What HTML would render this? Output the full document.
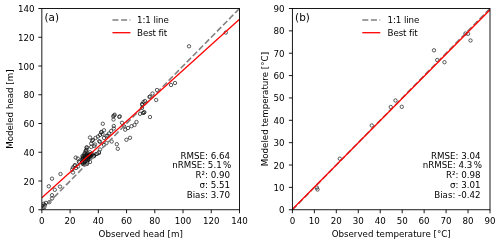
<!DOCTYPE html>
<html lang="en"><head><meta charset="utf-8"><title>Model fit</title>
<style>html,body{margin:0;padding:0;background:#fff}body{width:500px;height:244px;overflow:hidden}</style></head>
<body>
<svg width="500" height="244" viewBox="0 0 500 244" style="display:block" font-family='"DejaVu Sans", "Liberation Sans", sans-serif' font-size="8.7" fill="#000">
<rect width="500" height="244" fill="#fff"/>
<clipPath id="ca"><rect x="41.85" y="8.5" width="197.65" height="201.25"/></clipPath>
<g clip-path="url(#ca)">
<g fill="none" stroke="#111" stroke-width="0.68">
<circle cx="49.3" cy="202.2" r="1.7"/>
<circle cx="45.9" cy="202.9" r="1.7"/>
<circle cx="43.7" cy="203.8" r="1.7"/>
<circle cx="45.0" cy="205.0" r="1.7"/>
<circle cx="43.4" cy="206.0" r="1.7"/>
<circle cx="44.2" cy="207.3" r="1.7"/>
<circle cx="42.8" cy="208.0" r="1.7"/>
<circle cx="52.0" cy="198.5" r="1.7"/>
<circle cx="52.0" cy="195.2" r="1.7"/>
<circle cx="48.8" cy="186.3" r="1.7"/>
<circle cx="54.8" cy="189.8" r="1.7"/>
<circle cx="60.0" cy="186.6" r="1.7"/>
<circle cx="52.0" cy="178.7" r="1.7"/>
<circle cx="60.5" cy="174.0" r="1.7"/>
<circle cx="73.0" cy="172.5" r="1.7"/>
<circle cx="72.2" cy="169.5" r="1.7"/>
<circle cx="74.5" cy="166.0" r="1.7"/>
<circle cx="73.0" cy="167.5" r="1.7"/>
<circle cx="75.0" cy="165.0" r="1.7"/>
<circle cx="76.0" cy="168.0" r="1.7"/>
<circle cx="78.0" cy="166.5" r="1.7"/>
<circle cx="92.0" cy="140.8" r="1.7"/>
<circle cx="91.2" cy="143.5" r="1.7"/>
<circle cx="95.0" cy="144.5" r="1.7"/>
<circle cx="100.0" cy="141.8" r="1.7"/>
<circle cx="91.2" cy="147.0" r="1.7"/>
<circle cx="86.5" cy="147.5" r="1.7"/>
<circle cx="86.0" cy="150.5" r="1.7"/>
<circle cx="100.0" cy="149.5" r="1.7"/>
<circle cx="99.0" cy="152.0" r="1.7"/>
<circle cx="96.0" cy="154.0" r="1.7"/>
<circle cx="94.0" cy="156.0" r="1.7"/>
<circle cx="90.0" cy="137.5" r="1.7"/>
<circle cx="93.0" cy="140.0" r="1.7"/>
<circle cx="95.5" cy="138.0" r="1.7"/>
<circle cx="98.0" cy="136.5" r="1.7"/>
<circle cx="87.0" cy="147.5" r="1.7"/>
<circle cx="106.5" cy="143.0" r="1.7"/>
<circle cx="104.0" cy="145.0" r="1.7"/>
<circle cx="97.0" cy="154.0" r="1.7"/>
<circle cx="93.0" cy="156.5" r="1.7"/>
<circle cx="116.8" cy="144.2" r="1.7"/>
<circle cx="117.8" cy="148.8" r="1.7"/>
<circle cx="111.7" cy="141.5" r="1.7"/>
<circle cx="130.0" cy="137.8" r="1.7"/>
<circle cx="126.4" cy="139.8" r="1.7"/>
<circle cx="100.0" cy="135.0" r="1.7"/>
<circle cx="106.5" cy="136.0" r="1.7"/>
<circle cx="104.0" cy="138.0" r="1.7"/>
<circle cx="101.5" cy="132.0" r="1.7"/>
<circle cx="101.2" cy="132.3" r="1.7"/>
<circle cx="102.5" cy="134.0" r="1.7"/>
<circle cx="104.0" cy="130.3" r="1.7"/>
<circle cx="111.2" cy="131.0" r="1.7"/>
<circle cx="109.0" cy="133.5" r="1.7"/>
<circle cx="102.8" cy="123.8" r="1.7"/>
<circle cx="113.8" cy="126.0" r="1.7"/>
<circle cx="113.8" cy="128.5" r="1.7"/>
<circle cx="113.2" cy="116.4" r="1.7"/>
<circle cx="114.7" cy="114.7" r="1.7"/>
<circle cx="114.0" cy="115.5" r="1.7"/>
<circle cx="113.5" cy="119.5" r="1.7"/>
<circle cx="119.2" cy="116.9" r="1.7"/>
<circle cx="119.8" cy="116.3" r="1.7"/>
<circle cx="122.0" cy="122.8" r="1.7"/>
<circle cx="124.0" cy="126.3" r="1.7"/>
<circle cx="125.2" cy="129.7" r="1.7"/>
<circle cx="128.0" cy="128.0" r="1.7"/>
<circle cx="131.5" cy="126.2" r="1.7"/>
<circle cx="134.5" cy="125.0" r="1.7"/>
<circle cx="136.5" cy="122.0" r="1.7"/>
<circle cx="150.0" cy="117.0" r="1.7"/>
<circle cx="144.0" cy="112.5" r="1.7"/>
<circle cx="144.3" cy="112.2" r="1.7"/>
<circle cx="143.0" cy="113.0" r="1.7"/>
<circle cx="140.0" cy="113.8" r="1.7"/>
<circle cx="142.0" cy="108.0" r="1.7"/>
<circle cx="142.0" cy="104.0" r="1.7"/>
<circle cx="142.5" cy="104.8" r="1.7"/>
<circle cx="143.5" cy="102.0" r="1.7"/>
<circle cx="145.0" cy="101.0" r="1.7"/>
<circle cx="149.5" cy="97.0" r="1.7"/>
<circle cx="150.0" cy="96.5" r="1.7"/>
<circle cx="152.5" cy="93.5" r="1.7"/>
<circle cx="157.0" cy="90.0" r="1.7"/>
<circle cx="156.2" cy="100.0" r="1.7"/>
<circle cx="171.0" cy="85.0" r="1.7"/>
<circle cx="175.0" cy="83.0" r="1.7"/>
<circle cx="189.0" cy="46.3" r="1.7"/>
<circle cx="225.8" cy="32.6" r="1.7"/>
<circle cx="87.0" cy="164.0" r="1.7"/>
<circle cx="90.0" cy="162.0" r="1.7"/>
<circle cx="94.0" cy="156.0" r="1.7"/>
<circle cx="99.0" cy="153.0" r="1.7"/>
<circle cx="99.2" cy="141.2" r="1.7"/>
<circle cx="94.3" cy="146.1" r="1.7"/>
<circle cx="107.6" cy="135.6" r="1.7"/>
<circle cx="86.3" cy="159.0" r="1.7"/>
<circle cx="84.9" cy="157.3" r="1.7"/>
<circle cx="82.9" cy="159.5" r="1.7"/>
<circle cx="90.4" cy="155.0" r="1.7"/>
<circle cx="89.9" cy="154.9" r="1.7"/>
<circle cx="87.8" cy="156.6" r="1.7"/>
<circle cx="82.5" cy="163.7" r="1.7"/>
<circle cx="88.7" cy="156.9" r="1.7"/>
<circle cx="77.8" cy="158.6" r="1.7"/>
<circle cx="82.6" cy="158.9" r="1.7"/>
<circle cx="87.1" cy="156.3" r="1.7"/>
<circle cx="86.7" cy="154.5" r="1.7"/>
<circle cx="87.9" cy="157.2" r="1.7"/>
<circle cx="87.2" cy="162.6" r="1.7"/>
<circle cx="90.1" cy="158.1" r="1.7"/>
<circle cx="82.9" cy="157.6" r="1.7"/>
<circle cx="84.9" cy="158.1" r="1.7"/>
<circle cx="88.6" cy="156.0" r="1.7"/>
<circle cx="83.1" cy="156.6" r="1.7"/>
<circle cx="86.8" cy="161.2" r="1.7"/>
<circle cx="84.1" cy="160.1" r="1.7"/>
<circle cx="84.8" cy="153.1" r="1.7"/>
<circle cx="88.7" cy="159.8" r="1.7"/>
<circle cx="79.3" cy="162.3" r="1.7"/>
<circle cx="84.4" cy="156.0" r="1.7"/>
<circle cx="87.6" cy="155.8" r="1.7"/>
<circle cx="83.1" cy="163.1" r="1.7"/>
<circle cx="90.0" cy="157.3" r="1.7"/>
<circle cx="91.3" cy="154.0" r="1.7"/>
<circle cx="84.2" cy="154.4" r="1.7"/>
<circle cx="87.0" cy="154.3" r="1.7"/>
<circle cx="82.5" cy="156.0" r="1.7"/>
<circle cx="82.2" cy="159.0" r="1.7"/>
<circle cx="86.6" cy="149.6" r="1.7"/>
<circle cx="82.1" cy="161.9" r="1.7"/>
<circle cx="91.7" cy="154.4" r="1.7"/>
<circle cx="75.7" cy="157.6" r="1.7"/>
<circle cx="86.0" cy="154.8" r="1.7"/>
<circle cx="84.5" cy="162.4" r="1.7"/>
<circle cx="89.9" cy="154.5" r="1.7"/>
<circle cx="87.8" cy="157.5" r="1.7"/>
<circle cx="92.3" cy="154.1" r="1.7"/>
<circle cx="88.8" cy="156.9" r="1.7"/>
<circle cx="83.6" cy="164.3" r="1.7"/>
<circle cx="90.1" cy="155.7" r="1.7"/>
<circle cx="78.9" cy="161.6" r="1.7"/>
<circle cx="85.6" cy="151.3" r="1.7"/>
<circle cx="87.5" cy="159.9" r="1.7"/>
<circle cx="85.0" cy="164.2" r="1.7"/>
<circle cx="87.7" cy="155.4" r="1.7"/>
<circle cx="88.4" cy="157.7" r="1.7"/>
<circle cx="88.6" cy="159.3" r="1.7"/>
<circle cx="83.4" cy="158.3" r="1.7"/>
<circle cx="89.5" cy="154.4" r="1.7"/>
<circle cx="85.2" cy="161.7" r="1.7"/>
<circle cx="90.0" cy="152.3" r="1.7"/>
</g>
<line x1="41.85" y1="209.75" x2="239.5" y2="8.5" stroke="#808080" stroke-width="1.6" stroke-dasharray="6.02 2.6"/>
<line x1="41.85" y1="197.7" x2="239.5" y2="19.3" stroke="#f00" stroke-width="1.25"/>
</g>
<line x1="41.85" y1="209.75" x2="41.85" y2="213.25" stroke="#000" stroke-width="0.9"/>
<text x="41.85" y="224.05" text-anchor="middle">0</text>
<line x1="70.09" y1="209.75" x2="70.09" y2="213.25" stroke="#000" stroke-width="0.9"/>
<text x="70.09" y="224.05" text-anchor="middle">20</text>
<line x1="98.32" y1="209.75" x2="98.32" y2="213.25" stroke="#000" stroke-width="0.9"/>
<text x="98.32" y="224.05" text-anchor="middle">40</text>
<line x1="126.56" y1="209.75" x2="126.56" y2="213.25" stroke="#000" stroke-width="0.9"/>
<text x="126.56" y="224.05" text-anchor="middle">60</text>
<line x1="154.79" y1="209.75" x2="154.79" y2="213.25" stroke="#000" stroke-width="0.9"/>
<text x="154.79" y="224.05" text-anchor="middle">80</text>
<line x1="183.03" y1="209.75" x2="183.03" y2="213.25" stroke="#000" stroke-width="0.9"/>
<text x="183.03" y="224.05" text-anchor="middle">100</text>
<line x1="211.26" y1="209.75" x2="211.26" y2="213.25" stroke="#000" stroke-width="0.9"/>
<text x="211.26" y="224.05" text-anchor="middle">120</text>
<line x1="239.50" y1="209.75" x2="239.50" y2="213.25" stroke="#000" stroke-width="0.9"/>
<text x="239.50" y="224.05" text-anchor="middle">140</text>
<line x1="38.35" y1="209.75" x2="41.85" y2="209.75" stroke="#000" stroke-width="0.9"/>
<text x="34.65" y="213.25" text-anchor="end">0</text>
<line x1="38.35" y1="181.00" x2="41.85" y2="181.00" stroke="#000" stroke-width="0.9"/>
<text x="34.65" y="184.50" text-anchor="end">20</text>
<line x1="38.35" y1="152.25" x2="41.85" y2="152.25" stroke="#000" stroke-width="0.9"/>
<text x="34.65" y="155.75" text-anchor="end">40</text>
<line x1="38.35" y1="123.50" x2="41.85" y2="123.50" stroke="#000" stroke-width="0.9"/>
<text x="34.65" y="127.00" text-anchor="end">60</text>
<line x1="38.35" y1="94.75" x2="41.85" y2="94.75" stroke="#000" stroke-width="0.9"/>
<text x="34.65" y="98.25" text-anchor="end">80</text>
<line x1="38.35" y1="66.00" x2="41.85" y2="66.00" stroke="#000" stroke-width="0.9"/>
<text x="34.65" y="69.50" text-anchor="end">100</text>
<line x1="38.35" y1="37.25" x2="41.85" y2="37.25" stroke="#000" stroke-width="0.9"/>
<text x="34.65" y="40.75" text-anchor="end">120</text>
<line x1="38.35" y1="8.50" x2="41.85" y2="8.50" stroke="#000" stroke-width="0.9"/>
<text x="34.65" y="12.00" text-anchor="end">140</text>
<rect x="41.85" y="8.5" width="197.65" height="201.25" fill="none" stroke="#000" stroke-width="0.9"/>
<text x="44.55" y="20.7" font-size="10.4">(a)</text>
<line x1="112.44999999999999" y1="20" x2="130.45" y2="20" stroke="#808080" stroke-width="1.6" stroke-dasharray="6.02 2.6"/>
<line x1="112.44999999999999" y1="32.7" x2="130.45" y2="32.7" stroke="#f00" stroke-width="1.3"/>
<text x="137.05" y="22.9" letter-spacing="-0.1">1:1 line</text>
<text x="137.05" y="35.7" letter-spacing="-0.1">Best fit</text>
<text x="140.68" y="237" text-anchor="middle">Observed head [m]</text>
<text transform="translate(12.5,109.12) rotate(-90)" text-anchor="middle">Modeled head [m]</text>
<text x="230.0" y="158.50" text-anchor="end">RMSE: 6.64</text>
<text x="221.70" y="168.37" text-anchor="end">nRMSE: 5.1</text>
<text x="231.30" y="168.37" text-anchor="end">%</text>
<text x="230.0" y="178.24" text-anchor="end">R²: 0.90</text>
<text x="230.0" y="188.11" text-anchor="end">σ: 5.51</text>
<text x="230.0" y="197.98" text-anchor="end">Bias: 3.70</text>
<clipPath id="cb"><rect x="292.4" y="8.5" width="197.60000000000002" height="201.25"/></clipPath>
<g clip-path="url(#cb)">
<g fill="none" stroke="#111" stroke-width="0.68">
<circle cx="317.5" cy="189.5" r="1.7"/>
<circle cx="316.8" cy="187.6" r="1.7"/>
<circle cx="339.8" cy="158.7" r="1.7"/>
<circle cx="371.8" cy="125.5" r="1.7"/>
<circle cx="390.8" cy="107.0" r="1.7"/>
<circle cx="401.8" cy="106.8" r="1.7"/>
<circle cx="395.5" cy="100.5" r="1.7"/>
<circle cx="434.0" cy="50.3" r="1.7"/>
<circle cx="437.2" cy="60.0" r="1.7"/>
<circle cx="444.5" cy="62.2" r="1.7"/>
<circle cx="470.5" cy="40.5" r="1.7"/>
<circle cx="468.0" cy="33.8" r="1.7"/>
<circle cx="465.5" cy="33.5" r="1.7"/>
</g>
<line x1="292.4" y1="209.75" x2="490.0" y2="8.5" stroke="#808080" stroke-width="1.6" stroke-dasharray="6.02 2.6"/>
<line x1="292.4" y1="209.3" x2="490.0" y2="9.8" stroke="#f00" stroke-width="1.25"/>
</g>
<line x1="292.40" y1="209.75" x2="292.40" y2="213.25" stroke="#000" stroke-width="0.9"/>
<text x="292.40" y="224.05" text-anchor="middle">0</text>
<line x1="314.36" y1="209.75" x2="314.36" y2="213.25" stroke="#000" stroke-width="0.9"/>
<text x="314.36" y="224.05" text-anchor="middle">10</text>
<line x1="336.31" y1="209.75" x2="336.31" y2="213.25" stroke="#000" stroke-width="0.9"/>
<text x="336.31" y="224.05" text-anchor="middle">20</text>
<line x1="358.27" y1="209.75" x2="358.27" y2="213.25" stroke="#000" stroke-width="0.9"/>
<text x="358.27" y="224.05" text-anchor="middle">30</text>
<line x1="380.22" y1="209.75" x2="380.22" y2="213.25" stroke="#000" stroke-width="0.9"/>
<text x="380.22" y="224.05" text-anchor="middle">40</text>
<line x1="402.18" y1="209.75" x2="402.18" y2="213.25" stroke="#000" stroke-width="0.9"/>
<text x="402.18" y="224.05" text-anchor="middle">50</text>
<line x1="424.13" y1="209.75" x2="424.13" y2="213.25" stroke="#000" stroke-width="0.9"/>
<text x="424.13" y="224.05" text-anchor="middle">60</text>
<line x1="446.09" y1="209.75" x2="446.09" y2="213.25" stroke="#000" stroke-width="0.9"/>
<text x="446.09" y="224.05" text-anchor="middle">70</text>
<line x1="468.04" y1="209.75" x2="468.04" y2="213.25" stroke="#000" stroke-width="0.9"/>
<text x="468.04" y="224.05" text-anchor="middle">80</text>
<line x1="490.00" y1="209.75" x2="490.00" y2="213.25" stroke="#000" stroke-width="0.9"/>
<text x="490.00" y="224.05" text-anchor="middle">90</text>
<line x1="288.9" y1="209.75" x2="292.4" y2="209.75" stroke="#000" stroke-width="0.9"/>
<text x="284.50" y="213.25" text-anchor="end">0</text>
<line x1="288.9" y1="187.39" x2="292.4" y2="187.39" stroke="#000" stroke-width="0.9"/>
<text x="284.50" y="190.89" text-anchor="end">10</text>
<line x1="288.9" y1="165.03" x2="292.4" y2="165.03" stroke="#000" stroke-width="0.9"/>
<text x="284.50" y="168.53" text-anchor="end">20</text>
<line x1="288.9" y1="142.67" x2="292.4" y2="142.67" stroke="#000" stroke-width="0.9"/>
<text x="284.50" y="146.17" text-anchor="end">30</text>
<line x1="288.9" y1="120.31" x2="292.4" y2="120.31" stroke="#000" stroke-width="0.9"/>
<text x="284.50" y="123.81" text-anchor="end">40</text>
<line x1="288.9" y1="97.94" x2="292.4" y2="97.94" stroke="#000" stroke-width="0.9"/>
<text x="284.50" y="101.44" text-anchor="end">50</text>
<line x1="288.9" y1="75.58" x2="292.4" y2="75.58" stroke="#000" stroke-width="0.9"/>
<text x="284.50" y="79.08" text-anchor="end">60</text>
<line x1="288.9" y1="53.22" x2="292.4" y2="53.22" stroke="#000" stroke-width="0.9"/>
<text x="284.50" y="56.72" text-anchor="end">70</text>
<line x1="288.9" y1="30.86" x2="292.4" y2="30.86" stroke="#000" stroke-width="0.9"/>
<text x="284.50" y="34.36" text-anchor="end">80</text>
<line x1="288.9" y1="8.50" x2="292.4" y2="8.50" stroke="#000" stroke-width="0.9"/>
<text x="284.50" y="12.00" text-anchor="end">90</text>
<rect x="292.4" y="8.5" width="197.60000000000002" height="201.25" fill="none" stroke="#000" stroke-width="0.9"/>
<text x="295.10" y="20.7" font-size="10.4">(b)</text>
<line x1="362.29999999999995" y1="20" x2="380.29999999999995" y2="20" stroke="#808080" stroke-width="1.6" stroke-dasharray="6.02 2.6"/>
<line x1="362.29999999999995" y1="32.7" x2="380.29999999999995" y2="32.7" stroke="#f00" stroke-width="1.3"/>
<text x="387.60" y="22.9" letter-spacing="-0.1">1:1 line</text>
<text x="387.60" y="35.7" letter-spacing="-0.1">Best fit</text>
<text x="391.20" y="237" text-anchor="middle">Observed temperature [°C]</text>
<text transform="translate(267.7,109.12) rotate(-90)" text-anchor="middle">Modeled temperature [°C]</text>
<text x="480.6" y="158.50" text-anchor="end">RMSE: 3.04</text>
<text x="472.30" y="168.37" text-anchor="end">nRMSE: 4.3</text>
<text x="481.90" y="168.37" text-anchor="end">%</text>
<text x="480.6" y="178.24" text-anchor="end">R²: 0.98</text>
<text x="480.6" y="188.11" text-anchor="end">σ: 3.01</text>
<text x="480.6" y="197.98" text-anchor="end">Bias: -0.42</text>
</svg>
</body></html>
